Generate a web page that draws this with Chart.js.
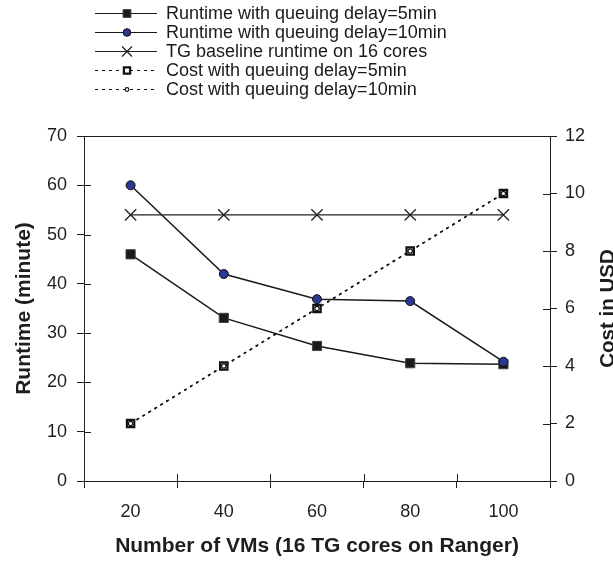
<!DOCTYPE html>
<html>
<head>
<meta charset="utf-8">
<script src="https://cdn.jsdelivr.net/npm/chart.js@4.4.1/dist/chart.umd.min.js"></script>
<style>
  html, body { margin: 0; padding: 0; background: #fff; }
  #wrap { position: relative; width: 613px; height: 563px; overflow: hidden; }
  #chart { position: absolute; left: 0; top: 0; }
  #legend { position: absolute; left: 95px; top: 4px; font-family: "Liberation Sans", Arial, sans-serif; font-size: 18px; color: #1a1a1a; }
  .row { display: flex; align-items: center; height: 19px; }
  .row canvas { display: block; margin-right: 7px; }
  .row span { white-space: nowrap; line-height: 19px; }
</style>
</head>
<body>
<div id="wrap">
  <canvas id="chart" width="613" height="563"></canvas>
  <div id="legend"></div>
</div>
<script>
// Number of VMs on the x axis
const vmCounts = ['20', '40', '60', '80', '100'];
// Runtime in minutes (left axis)
const runtimeDelay5 = [46, 33.1, 27.4, 23.9, 23.7];
const runtimeDelay10 = [60, 42, 36.9, 36.5, 24.2];
const tgBaseline = [54, 54, 54, 54, 54];
// Cost in USD (right axis)
const costDelay5 = [2, 4, 6, 8, 10];
const costDelay10 = [2, 4, 6, 8, 10];
// Axis tick values
const runtimeTicks = [0, 10, 20, 30, 40, 50, 60, 70];
const costTicks = [0, 2, 4, 6, 8, 10, 12];

const FONT = '"Liberation Sans", Arial, sans-serif';
const INK = '#1e1e1e';
Chart.defaults.font.family = FONT;
Chart.defaults.font.size = 18;
Chart.defaults.color = INK;

// Inward tick marks, top frame line and the right-hand axis title
const axisDecor = {
  id: 'axisDecor',
  beforeDatasetsDraw(chart) {
    const { ctx, chartArea: a, scales } = chart;
    const len = 7;
    ctx.save();
    ctx.strokeStyle = INK;
    ctx.lineWidth = 1;
    ctx.beginPath();
    scales.y.ticks.forEach(t => {
      const y = Math.round(scales.y.getPixelForValue(t.value)) + 0.5;
      ctx.moveTo(a.left, y); ctx.lineTo(a.left + len, y);
    });
    scales.y1.ticks.forEach(t => {
      const y = Math.round(scales.y1.getPixelForValue(t.value)) + 0.5;
      ctx.moveTo(a.right - len, y); ctx.lineTo(a.right, y);
    });
    for (let i = 0; i <= vmCounts.length; i++) {
      const x = Math.round(scales.x.getPixelForValue(i - 0.5)) + 0.5;
      ctx.moveTo(x, a.bottom - len); ctx.lineTo(x, a.bottom);
    }
    const top = Math.round(a.top) + 0.5;
    ctx.moveTo(a.left, top); ctx.lineTo(a.right, top);
    ctx.stroke();
    ctx.restore();
  },
  afterDraw(chart) {
    const { ctx, chartArea: a, scales } = chart;
    ctx.save();
    ctx.font = 'bold 20.5px ' + FONT;
    ctx.fillStyle = INK;
    ctx.textAlign = 'center';
    ctx.textBaseline = 'middle';
    ctx.translate(scales.y1.right - 5, (a.top + a.bottom) / 2);
    ctx.rotate(-Math.PI / 2);
    ctx.fillText('Cost in USD', 0, 0);
    ctx.restore();
  }
};

const chart = new Chart(document.getElementById('chart'), {
  type: 'line',
  data: {
    labels: vmCounts,
    datasets: [
      {
        label: 'Runtime with queuing delay=5min',
        data: runtimeDelay5, yAxisID: 'y', order: 5,
        borderColor: '#1a1a1a', borderWidth: 1.5,
        pointStyle: 'rect', pointRadius: 6.5, pointBorderWidth: 1,
        pointBackgroundColor: '#1a1a1a', pointBorderColor: '#444'
      },
      {
        label: 'Runtime with queuing delay=10min',
        data: runtimeDelay10, yAxisID: 'y', order: 4,
        borderColor: '#1a1a1a', borderWidth: 1.5,
        pointStyle: 'circle', pointRadius: 4.5, pointBorderWidth: 1,
        pointBackgroundColor: '#2b3891', pointBorderColor: '#111'
      },
      {
        label: 'TG baseline runtime on 16 cores',
        data: tgBaseline, yAxisID: 'y', order: 3,
        borderColor: '#222', borderWidth: 1.3,
        pointStyle: 'crossRot', pointRadius: 8, pointBorderWidth: 1.3,
        pointBackgroundColor: '#222', pointBorderColor: '#222'
      },
      {
        label: 'Cost with queuing delay=5min',
        data: costDelay5, yAxisID: 'y1', order: 2,
        borderColor: '#111', borderWidth: 1.6, borderDash: [3, 4],
        pointStyle: 'rect', pointRadius: 5.2, pointBorderWidth: 2.2,
        pointBackgroundColor: '#fff', pointBorderColor: '#111'
      },
      {
        label: 'Cost with queuing delay=10min',
        data: costDelay10, yAxisID: 'y1', order: 1,
        borderColor: '#111', borderWidth: 1.6, borderDash: [1.5, 5.5],
        pointStyle: 'circle', pointRadius: 2.2, pointBorderWidth: 1.2,
        pointBackgroundColor: '#fff', pointBorderColor: '#111'
      }
    ]
  },
  options: {
    responsive: false,
    animation: false,
    devicePixelRatio: 1,
    layout: { padding: { top: 136, left: 0, right: 0, bottom: 0 } },
    plugins: { legend: { display: false }, tooltip: { enabled: false } },
    elements: { line: { tension: 0 } },
    scales: {
      x: {
        type: 'category', offset: true,
        grid: { offset: true, drawOnChartArea: false, drawTicks: true, tickLength: 7, color: INK, tickColor: INK },
        border: { color: INK, width: 1 },
        ticks: { padding: 13, color: INK, font: { size: 18 } },
        title: { display: true, text: 'Number of VMs (16 TG cores on Ranger)', color: INK,
                 font: { size: 21, weight: 'bold' }, padding: { top: 0, bottom: 4 } },
        afterFit: s => { s.height = 82; }
      },
      y: {
        position: 'left', min: 0, max: 70,
        afterBuildTicks: s => { s.ticks = runtimeTicks.map(value => ({ value })); },
        grid: { drawOnChartArea: false, drawTicks: true, tickLength: 7, color: INK, tickColor: INK },
        border: { color: INK, width: 1 },
        ticks: { padding: 10, color: INK, font: { size: 18 } },
        title: { display: true, text: 'Runtime (minute)', color: INK,
                 font: { size: 21, weight: 'bold' }, padding: { top: 12, bottom: 0 } },
        afterFit: s => { s.width = 84; }
      },
      y1: {
        position: 'right', min: 0, max: 12,
        afterBuildTicks: s => { s.ticks = costTicks.map(value => ({ value })); },
        grid: { drawOnChartArea: false, drawTicks: true, tickLength: 7, color: INK, tickColor: INK },
        border: { color: INK, width: 1 },
        ticks: { padding: 8, color: INK, font: { size: 18 } },
        afterFit: s => { s.width = 63; }
      }
    }
  },
  plugins: [axisDecor]
});

// Legend column built from the chart's own datasets
(function buildLegend() {
  const box = document.getElementById('legend');
  chart.data.datasets.forEach(ds => {
    const row = document.createElement('div');
    row.className = 'row';
    const cv = document.createElement('canvas');
    cv.width = 64; cv.height = 19;
    const ctx = cv.getContext('2d');
    ctx.strokeStyle = ds.borderColor;
    ctx.lineWidth = 1;
    ctx.setLineDash(ds.borderDash ? [3, 4] : []);
    ctx.beginPath(); ctx.moveTo(0, 9.5); ctx.lineTo(62, 9.5); ctx.stroke();
    ctx.setLineDash([]);
    ctx.fillStyle = ds.pointBackgroundColor;
    ctx.strokeStyle = ds.pointBorderColor;
    ctx.lineWidth = ds.pointBorderWidth;
    const r = ds.pointStyle === 'crossRot' ? 7 : ds.pointRadius * 0.85;
    Chart.helpers.drawPoint(ctx, { pointStyle: ds.pointStyle, radius: r, rotation: 0, borderWidth: ds.pointBorderWidth }, 32, 9.5);
    const span = document.createElement('span');
    span.textContent = ds.label;
    row.appendChild(cv);
    row.appendChild(span);
    box.appendChild(row);
  });
})();
</script>
</body>
</html>
